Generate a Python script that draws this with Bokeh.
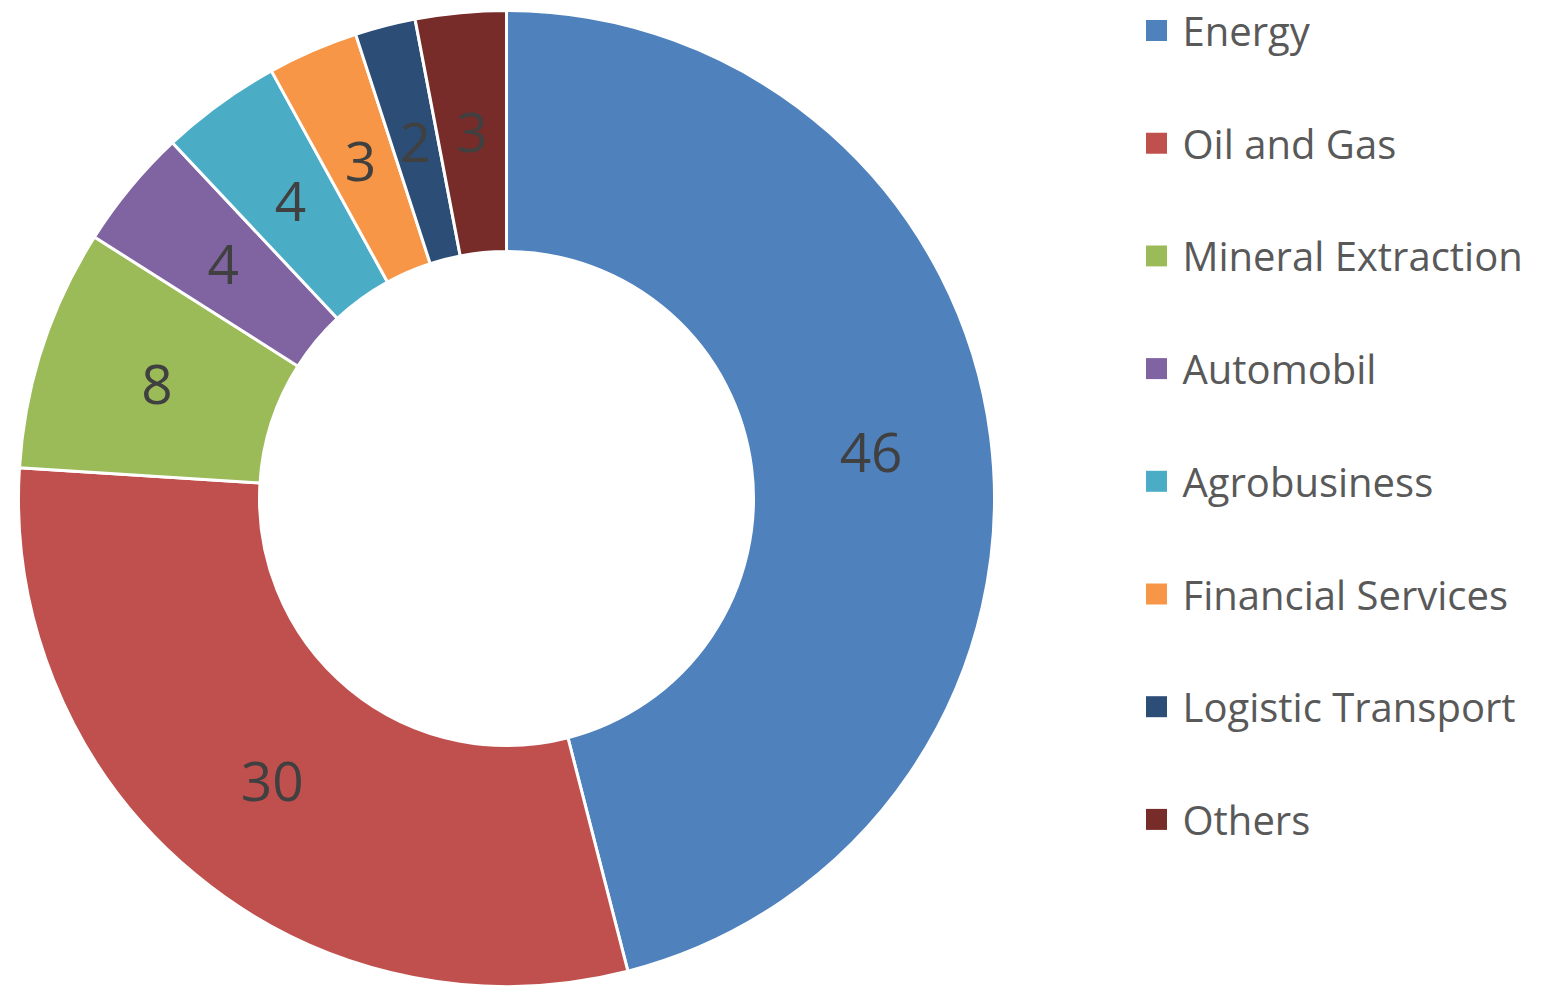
import numpy as np
from bokeh.plotting import figure
from bokeh.models import ColumnDataSource
from bokeh.core.properties import value
from bokeh.embed import file_html
from bokeh.resources import INLINE

categories = ["Energy", "Oil and Gas", "Mineral Extraction", "Automobil",
              "Agrobusiness", "Financial Services", "Logistic Transport", "Others"]
values = [46, 30, 8, 4, 4, 3, 2, 3]
colors = ["#4F81BD", "#C0504D", "#9BBB59", "#8064A2",
          "#4BACC6", "#F79646", "#2C4D75", "#772C2A"]

W, H = 1530, 987
FONT = "Open Sans"

# geometry (layout, in px from top-left)
cx, cy = 506, H - 498
r_out, r_in = 488, 247

vals = np.array(values, dtype=float)
frac = vals / vals.sum()
cum = np.concatenate([[0], np.cumsum(frac)])
start = np.pi / 2 - 2 * np.pi * cum[1:]
end = np.pi / 2 - 2 * np.pi * cum[:-1]
mid = (start + end) / 2
r_mid = (r_in + r_out) / 2

n = len(categories)
src = ColumnDataSource(dict(
    cat=categories, val=values, color=colors,
    start=start, end=end,
    lx=cx + r_mid * np.cos(mid), ly=cy + r_mid * np.sin(mid),
    txt=[str(v) for v in values],
    gx=[1156] * n,
    gy=[H - (30 + 112.7 * i) for i in range(n)],
    tx=[1182] * n,
))

p = figure(width=W, height=H, x_range=(0, W), y_range=(0, H),
           output_backend="svg", toolbar_location=None,
           min_border=0, outline_line_color=None)
p.axis.visible = False
p.grid.visible = False
p.background_fill_color = "white"
p.border_fill_color = "white"

p.annular_wedge(x=cx, y=cy, inner_radius=r_in, outer_radius=r_out,
                start_angle="start", end_angle="end", direction="anticlock",
                fill_color="color", line_color="white", line_width=3,
                source=src)

p.text(x="lx", y="ly", text="txt", source=src,
       text_font=value(FONT), text_font_size="55px", text_color="#404040",
       text_align="center", text_baseline="middle")

p.scatter(x="gx", y="gy", marker="square", size=21, fill_color="color",
          line_color=None, source=src)
p.text(x="tx", y="gy", text="cat", source=src,
       text_font=value(FONT), text_font_size="40px", text_color="#595959",
       text_align="left", text_baseline="middle")

open("out.html", "w").write(file_html(p, INLINE))
